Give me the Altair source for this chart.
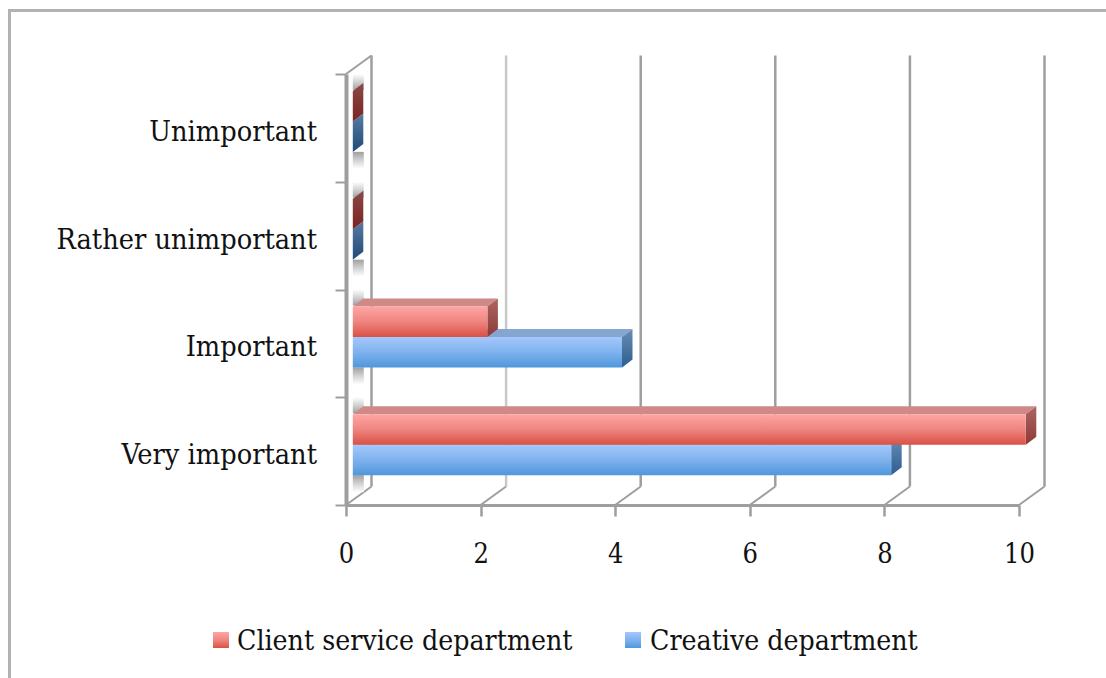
import altair as alt
import pandas as pd

# Survey results: number of answers per importance level and department
categories = ["Very important", "Important", "Rather unimportant", "Unimportant"]
client_service = [10, 2, 0, 0]
creative = [8, 4, 0, 0]
series_names = ["Client service department", "Creative department"]
x_ticks = [0, 2, 4, 6, 8, 10]
y_ticks = [0, 1, 2, 3, 4]

# Plot area in pixels; one y unit is one category band
PLOT_W, PLOT_H = 673, 431
PAD = {"left": 346, "top": 74, "right": 87, "bottom": 173}
PX_X = 10 / PLOT_W
PX_Y = 4 / PLOT_H

# Oblique projection of the 3D box
WALL_DX, WALL_DY = 25.5 * PX_X, 18.5 * PX_Y
BAR_DX, BAR_DY = 6.8 * PX_X, 6.5 * PX_Y
CAP_DX, CAP_DY = 10.5 * PX_X, 8.0 * PX_Y
BAR_H = 30.5 * PX_Y


def vgrad(*stops):
    n = len(stops) - 1
    return alt.Gradient(
        gradient="linear", x1=0, y1=0, x2=0, y2=1,
        stops=[alt.GradientStop(color=c, offset=i / n) for i, c in enumerate(stops)],
    )


RED_FRONT = vgrad("#ffa6a4", "#ef8580", "#da5145")
RED_TOP = "#cf8a88"
RED_END = vgrad("#ad6664", "#8c3a36")
BLUE_FRONT = vgrad("#a4c8fc", "#7fb2ee", "#4f97dc")
BLUE_TOP = "#86a6d2"
BLUE_END = vgrad("#6a8db5", "#2c5d90")
RED_ZERO = vgrad("#8a4a48", "#7a2420")
BLUE_ZERO = vgrad("#5a7ba2", "#1f4b78")

front_rows, top_rows, end_rows = [], [], []
for band, name in enumerate(categories):
    centre = band + 0.5 + BAR_DY
    for series, values, y_low in (
        ("client", client_service, centre),
        ("creative", creative, centre - BAR_H),
    ):
        v = values[band]
        x0, x1 = BAR_DX, v + BAR_DX
        y1 = y_low + BAR_H
        key = f"{series}-{band}"
        front_rows.append(dict(series=series, value=v, x0=x0, x1=x1, y0=y_low, y1=y1))
        # Top face: slanted ends, so it runs along y
        for yy, shift in ((y1, 0), (y1 + CAP_DY, CAP_DX)):
            top_rows.append(dict(series=series, value=v, key=key, y=yy, xa=x0 + shift, xb=x1 + shift))
        # End face: slanted top and bottom, so it runs along x
        for xx, shift in ((x1, 0), (x1 + CAP_DX, CAP_DY)):
            end_rows.append(dict(series=series, value=v, key=key, x=xx, ya=y_low + shift, yb=y1 + shift))

front = pd.DataFrame(front_rows)
top = pd.DataFrame(top_rows)
end = pd.DataFrame(end_rows)

x_scale = alt.Scale(domain=[0, 10], nice=False, zero=False)
y_scale = alt.Scale(domain=[0, 4], nice=False, zero=False)
X = lambda f: alt.X(f, type="quantitative", scale=x_scale, title=None)
Y = lambda f: alt.Y(f, type="quantitative", scale=y_scale, title=None)
X2 = lambda f: alt.X2(f)
Y2 = lambda f: alt.Y2(f)

GRID = "#9e9e9e"

# Back wall grid lines
grid_df = pd.DataFrame({"v": x_ticks})
grid_df["xb"] = grid_df.v + WALL_DX
grid_df["y0"] = WALL_DY
grid_df["y1"] = 4 + WALL_DY
back_grid = alt.Chart(grid_df).mark_rule(strokeWidth=2.5).encode(
    x=X("xb"), y=Y("y0"), y2=Y2("y1"),
    color=alt.condition(alt.datum.v == 2, alt.value("#c8c8c8"), alt.value(GRID)),
)

# Floor lines from the front edge to the back wall
floor_rows = []
for v in x_ticks:
    floor_rows.append(dict(v=v, x=v, y=0))
    floor_rows.append(dict(v=v, x=v + WALL_DX, y=WALL_DY))
floor = alt.Chart(pd.DataFrame(floor_rows)).mark_line(color=GRID, strokeWidth=2).encode(
    x=X("x"), y=Y("y"), detail="v:N"
)

# Side wall: its far edge and upper slant
side_rows = [dict(x=0, y=4), dict(x=WALL_DX, y=4 + WALL_DY)]
side_top = alt.Chart(pd.DataFrame(side_rows)).mark_line(color=GRID, strokeWidth=2).encode(
    x=X("x"), y=Y("y")
)

# Soft shadow the bars cast on the side wall
shadow_rows = []
for band in range(len(categories)):
    centre = band + 0.5 + BAR_DY
    span = 17 * PX_Y
    shadow_rows.append(dict(pos="upper", x0=BAR_DX, x1=BAR_DX + 11 * PX_X,
                            y0=centre + BAR_H + 1 * PX_Y, y1=centre + BAR_H + span))
    shadow_rows.append(dict(pos="lower", x0=BAR_DX, x1=BAR_DX + 11 * PX_X,
                            y0=centre - BAR_H - span, y1=centre - BAR_H))
shadow_df = pd.DataFrame(shadow_rows)
shadow_up = alt.Chart(shadow_df[shadow_df.pos == "upper"]).mark_rect(
    color=vgrad("#ffffff", "#d2d2d2", "#a0a0a0")
).encode(x=X("x0"), x2=X2("x1"), y=Y("y0"), y2=Y2("y1"))
shadow_down = alt.Chart(shadow_df[shadow_df.pos == "lower"]).mark_rect(
    color=vgrad("#a0a0a0", "#d2d2d2", "#ffffff")
).encode(x=X("x0"), x2=X2("x1"), y=Y("y0"), y2=Y2("y1"))


def bar_layers(series, front_fill, top_fill, end_fill, zero_fill):
    f = front[(front.series == series) & (front.value > 0)]
    t = top[(top.series == series) & (top.value > 0)]
    e = end[(end.series == series) & (end.value > 0)]
    z = end[(end.series == series) & (end.value == 0)]
    out = []
    out.append(alt.Chart(t).mark_area(color=top_fill, orient="vertical").encode(
        y=Y("y"), x=X("xa"), x2=X2("xb"), detail="key:N"))
    out.append(alt.Chart(e).mark_area(color=end_fill, orient="vertical").encode(
        x=X("x"), y=Y("ya"), y2=Y2("yb"), detail="key:N"))
    out.append(alt.Chart(z).mark_area(color=zero_fill, orient="vertical").encode(
        x=X("x"), y=Y("ya"), y2=Y2("yb"), detail="key:N"))
    out.append(alt.Chart(f).mark_rect(color=front_fill).encode(
        x=X("x0"), x2=X2("x1"), y=Y("y0"), y2=Y2("y1")))
    return out


blue_bars = bar_layers("creative", BLUE_FRONT, BLUE_TOP, BLUE_END, BLUE_ZERO)
red_bars = bar_layers("client", RED_FRONT, RED_TOP, RED_END, RED_ZERO)

FONT = "DejaVu Serif Condensed"
LABEL_SIZE = 28.6
LEGEND_SIZE = 28.2
TICK_SIZE = 27

# Category names left of the axis
cat_df = pd.DataFrame({"name": categories, "pos": [i + 0.5 for i in range(len(categories))]})
cat_labels = alt.Chart(cat_df).mark_text(
    font=FONT, fontSize=LABEL_SIZE, align="right", baseline="middle", color="#111111", dy=4
).encode(x=alt.value(-29), y=Y("pos"), text="name:N")

# Axes carry the numbers and tick marks
axes = alt.Chart(pd.DataFrame({"a": [0]})).mark_point(opacity=0).encode(
    x=alt.X("a:Q", scale=x_scale, title=None, axis=alt.Axis(
        values=x_ticks, grid=False, format="d", orient="bottom", tickColor=GRID, tickWidth=2.5,
        tickSize=11, domainColor=GRID, domainWidth=3, labelFont=FONT, labelFontSize=TICK_SIZE,
        labelColor="#111111", labelPadding=25, labelFlush=False)),
    y=alt.Y("a:Q", scale=y_scale, title=None, axis=alt.Axis(
        values=y_ticks, grid=False, labels=False, orient="left", tickColor=GRID, tickWidth=2,
        tickSize=11, domainColor=GRID, domainWidth=4)),
)

# Legend row and outer frame sit in pixel space around the plot
TO_X = PAD["left"]
TO_Y = PAD["top"]
legend_text = alt.Chart(pd.DataFrame({
    "name": series_names, "px": [237 - TO_X, 650 - TO_X]
})).mark_text(font=FONT, fontSize=LEGEND_SIZE, align="left", baseline="middle", color="#111111").encode(
    x=alt.X("px:Q", scale=None), y=alt.value(642 - TO_Y), text="name:N"
)
swatch_red = alt.Chart(pd.DataFrame({"a": [0]})).mark_rect(color=RED_FRONT).encode(
    x=alt.value(213 - TO_X), x2=alt.value(229 - TO_X), y=alt.value(632 - TO_Y), y2=alt.value(648 - TO_Y))
swatch_blue = alt.Chart(pd.DataFrame({"a": [0]})).mark_rect(color=BLUE_FRONT).encode(
    x=alt.value(625 - TO_X), x2=alt.value(641 - TO_X), y=alt.value(632 - TO_Y), y2=alt.value(648 - TO_Y))
frame_top = alt.Chart(pd.DataFrame({"a": [0]})).mark_rule(color="#b2b2b2", strokeWidth=3).encode(
    x=alt.value(8 - TO_X), x2=alt.value(1106 - TO_X), y=alt.value(10.5 - TO_Y))
frame_left = alt.Chart(pd.DataFrame({"a": [0]})).mark_rule(color="#b2b2b2", strokeWidth=3).encode(
    x=alt.value(9.5 - TO_X), y=alt.value(10 - TO_Y), y2=alt.value(678 - TO_Y))

chart = alt.layer(
    frame_top, frame_left, back_grid, floor, side_top, shadow_up, shadow_down,
    axes, *blue_bars, *red_bars, cat_labels, legend_text, swatch_red, swatch_blue,
).resolve_scale(x="shared", y="shared").properties(
    width=PLOT_W, height=PLOT_H, padding=PAD,
    autosize=alt.AutoSizeParams(type="none"), background="white",
).configure_view(stroke=None)

chart.save("out.html", embed_options={"renderer": "svg", "actions": False})
